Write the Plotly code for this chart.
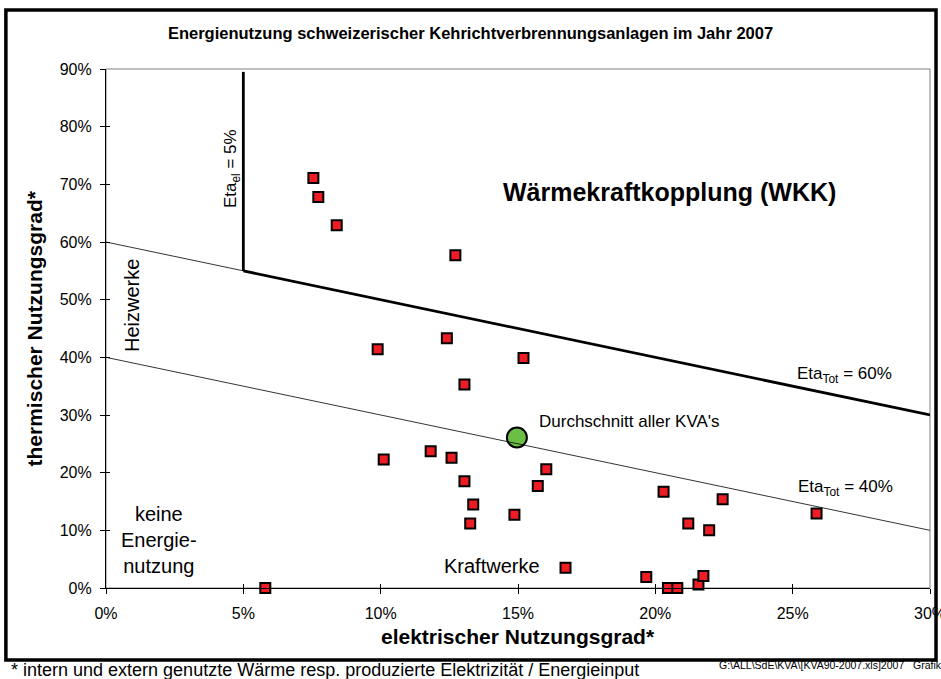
import plotly.graph_objects as go

# ---------------- data ----------------
title_text = "Energienutzung schweizerischer Kehrichtverbrennungsanlagen im Jahr 2007"
x_title = "elektrischer Nutzungsgrad*"
y_title = "thermischer Nutzungsgrad*"

# electrical efficiency (fraction) and thermal efficiency (fraction) of each plant
kva_el = [0.0755, 0.0773, 0.084, 0.1272,
          0.0989, 0.1241, 0.152, 0.1305,
          0.1011, 0.1182, 0.1258, 0.1305, 0.1337, 0.1326, 0.1487, 0.1572, 0.1603, 0.1673,
          0.203, 0.2245, 0.212, 0.2196, 0.2587, 0.1967, 0.2046, 0.208, 0.2157, 0.2175,
          0.058]
kva_th = [0.711, 0.678, 0.629, 0.577,
          0.414, 0.433, 0.399, 0.353,
          0.223, 0.237, 0.226, 0.185, 0.145, 0.112, 0.127, 0.177, 0.206, 0.035,
          0.167, 0.154, 0.112, 0.100, 0.129, 0.019, 0.0, 0.0, 0.006, 0.021,
          0.0]

avg_el = [0.1496]
avg_th = [0.261]

# boundary lines
eta60_thin_x = [0.0, 0.05]
eta60_thin_y = [0.60, 0.55]
eta60_thick_x = [0.05, 0.30]
eta60_thick_y = [0.55, 0.30]
eta_el_x = [0.05, 0.05]
eta_el_y = [0.55, 0.895]
eta40_x = [0.0, 0.30]
eta40_y = [0.40, 0.10]

x_ticks = [0, 0.05, 0.10, 0.15, 0.20, 0.25, 0.30]
x_ticklabels = ["0%", "5%", "10%", "15%", "20%", "25%", "30%"]
y_ticks = [0, 0.1, 0.2, 0.3, 0.4, 0.5, 0.6, 0.7, 0.8, 0.9]
y_ticklabels = ["0%", "10%", "20%", "30%", "40%", "50%", "60%", "70%", "80%", "90%"]

X_RANGE = [0, 0.30]
Y_RANGE = [0, 0.90]

FONT = "Liberation Sans, Arial, sans-serif"

fig = go.Figure()

fig.add_trace(go.Scatter(x=eta60_thin_x, y=eta60_thin_y, mode="lines",
                         line=dict(color="black", width=0.8), showlegend=False, hoverinfo="skip"))
# drawn on the overlay axes (same scale) so that the crossing ticks are rendered
fig.add_trace(go.Scatter(x=eta40_x, y=eta40_y, mode="lines", xaxis="x2", yaxis="y2",
                         line=dict(color="black", width=0.8), showlegend=False, hoverinfo="skip"))
fig.add_trace(go.Scatter(x=eta60_thick_x, y=eta60_thick_y, mode="lines",
                         line=dict(color="black", width=2.8), showlegend=False, hoverinfo="skip"))
fig.add_trace(go.Scatter(x=eta_el_x, y=eta_el_y, mode="lines",
                         line=dict(color="black", width=2.8), showlegend=False, hoverinfo="skip"))

fig.add_trace(go.Scatter(x=kva_el, y=kva_th, mode="markers", name="KVA",
                         marker=dict(symbol="square", size=10, color="#EE1D23",
                                     line=dict(color="black", width=2)),
                         showlegend=False, cliponaxis=False))
fig.add_trace(go.Scatter(x=avg_el, y=avg_th, mode="markers", name="Durchschnitt",
                         marker=dict(symbol="circle", size=20, color="#6DBE45",
                                     line=dict(color="black", width=2)),
                         showlegend=False, cliponaxis=False))

ann = []
def add(text, x, y, size, xref="x", yref="y", bold=False, xanchor="center", yanchor="middle", angle=0, align="center"):
    ann.append(dict(text=("<b>%s</b>" % text) if bold else text, x=x, y=y, xref=xref, yref=yref,
                    showarrow=False, xanchor=xanchor, yanchor=yanchor, textangle=angle, align=align,
                    font=dict(family=FONT, size=size, color="black")))

add("Wärmekraftkopplung (WKK)", 0.2052, 0.6872, 25, bold=True)
add("Eta<sub>Tot</sub> = 60%", 0.2508, 0.3694, 17, xanchor="left")
add("Eta<sub>Tot</sub> = 40%", 0.2512, 0.1729, 17, xanchor="left")
add("Durchschnitt aller KVA's", 0.1570, 0.2896, 17, xanchor="left")
add("Kraftwerke", 0.1405, 0.039, 20)
add("keine<br>Energie-<br>nutzung", 0.0194, 0.0832, 20)
add("Heizwerke", 0.00965, 0.4899, 20, angle=-90)
add("Eta<sub>el</sub> = 5%", 0.0459, 0.7266, 17, angle=-90)
add(x_title, 0.5, -0.0925, 21, xref="paper", yref="paper", bold=True)
add(y_title, -0.0862, 0.5, 21, xref="paper", yref="paper", bold=True, angle=-90)
add("* intern und extern genutzte Wärme resp. produzierte Elektrizität / Energieinput",
    -0.1177, -0.1575, 18, xref="paper", yref="paper", xanchor="left")
add("G:\\ALL\\SdE\\KVA\\[KVA90-2007.xls]2007   Grafik",
    0.7410, -0.1484, 10.5, xref="paper", yref="paper", xanchor="left")

fig.update_layout(
    width=941, height=679,
    margin=dict(l=106, r=11, t=69, b=91),
    paper_bgcolor="white", plot_bgcolor="white",
    font=dict(family=FONT, color="black"),
    title=dict(text="<b>%s</b>" % title_text, x=0.5, xref="container", xanchor="center",
               y=1 - 33 / 679, yanchor="middle", yref="container",
               font=dict(family=FONT, size=16.5, color="black")),
    annotations=ann,
    shapes=[
        dict(type="rect", xref="paper", yref="paper", x0=0, x1=1, y0=0, y1=1,
             line=dict(color="#808080", width=1), layer="below"),
        dict(type="rect", xref="paper", yref="paper", x0=-0.1215, x1=1.0073, y0=-0.1387, y1=1.1137,
             line=dict(color="black", width=3.5)),
    ],
    xaxis=dict(range=X_RANGE, tickvals=x_ticks, ticktext=x_ticklabels,
               showgrid=False, zeroline=False, showline=True, linecolor="black", linewidth=1.2,
               ticks="outside", ticklen=5, tickcolor="black", tickwidth=1,
               tickfont=dict(family=FONT, size=16, color="black"), ticklabelstandoff=6,
               ticklabeloverflow="allow", automargin=False),
    yaxis=dict(range=Y_RANGE, tickvals=y_ticks, ticktext=y_ticklabels,
               showgrid=False, zeroline=False, showline=True, linecolor="black", linewidth=1.2,
               ticks="outside", ticklen=5, tickcolor="black", tickwidth=1,
               tickfont=dict(family=FONT, size=16, color="black"), ticklabelstandoff=5,
               ticklabeloverflow="allow", automargin=False),
    xaxis2=dict(range=X_RANGE, overlaying="x", anchor="y", side="bottom", tickvals=x_ticks,
                showticklabels=False, showgrid=False, zeroline=False, showline=False,
                ticks="inside", ticklen=4, tickcolor="black", tickwidth=1),
    yaxis2=dict(range=Y_RANGE, overlaying="y", anchor="x", side="left", tickvals=y_ticks,
                showticklabels=False, showgrid=False, zeroline=False, showline=False,
                ticks="inside", ticklen=4, tickcolor="black", tickwidth=1),
)

fig.write_html("out.html", config={"displayModeBar": False},
               post_script="document.body.style.margin='0px';")
